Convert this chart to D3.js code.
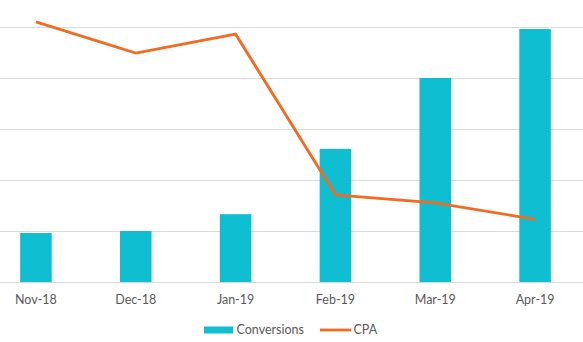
<!DOCTYPE html>
<html><head><meta charset="utf-8">
<script src="https://cdn.jsdelivr.net/npm/d3@7"></script>
<style>body{margin:0;background:#fff}svg{display:block}text{font-family:Lato,"Open Sans",sans-serif;fill:#595959}</style>
</head><body><svg id="c" width="583" height="342"></svg>
<script>
const months = ["Nov-18","Dec-18","Jan-19","Feb-19","Mar-19","Apr-19"];
const conversions = [96, 100, 133, 261, 400, 496];
const cpa = [51.0, 44.9, 48.6, 17.1, 15.5, 12.3];
const convTicks = [0, 100, 200, 300, 400, 500];
const cpaTicks = [0, 10, 20, 30, 40, 50];

(function () {
const svg = d3.select("#c");
const W = 583, base = 282, plotTop = 27;
const x = d3.scaleBand().domain(months).range([-14, 585]).paddingInner(0.684).paddingOuter(0.342);
const y = d3.scaleLinear().domain([0, 500]).range([base, plotTop]);
const y2 = d3.scaleLinear().domain([0, 50]).range([base, plotTop]);

// gridlines
svg.append("g").selectAll("line").data(convTicks).join("line")
  .attr("x1", 0).attr("x2", W)
  .attr("y1", d => Math.round(y(d)) + 0.5).attr("y2", d => Math.round(y(d)) + 0.5)
  .attr("stroke", "#d9d9d9").attr("stroke-width", 1);

// bars
svg.append("g").selectAll("rect").data(conversions).join("rect")
  .attr("x", (d, i) => x(months[i]))
  .attr("width", x.bandwidth())
  .attr("y", d => y(d))
  .attr("height", d => base - y(d))
  .attr("fill", "#0fbed1");

// line
const line = d3.line().x((d, i) => x(months[i]) + x.bandwidth() / 2).y(d => y2(d));
svg.append("path").datum(cpa).attr("d", line)
  .attr("fill", "none").attr("stroke", "#f26b21").attr("stroke-width", 2.8)
  .attr("stroke-linejoin", "miter");

// x axis labels
const xAxis = d3.axisBottom(x).tickSize(0).tickPadding(0);
const gx = svg.append("g").attr("transform", `translate(0,${base})`).call(xAxis);
gx.select(".domain").remove();
gx.selectAll("text").attr("dy", null).attr("y", 22).style("font-size", "12.5px")
  .style("font-family", "Lato, 'Open Sans', sans-serif").attr("fill", "#595959");

// legend
const lg = svg.append("g");
lg.append("rect").attr("x", 204).attr("y", 326.5).attr("width", 29).attr("height", 7).attr("fill", "#0fbed1");
lg.append("text").attr("x", 236.5).attr("y", 334.3).text("Conversions").style("font-size", "12.5px");
lg.append("line").attr("x1", 320).attr("x2", 351).attr("y1", 330).attr("y2", 330)
  .attr("stroke", "#f26b21").attr("stroke-width", 2.8);
lg.append("text").attr("x", 353.5).attr("y", 334.3).text("CPA").style("font-size", "12.5px");
})();
</script></body></html>
